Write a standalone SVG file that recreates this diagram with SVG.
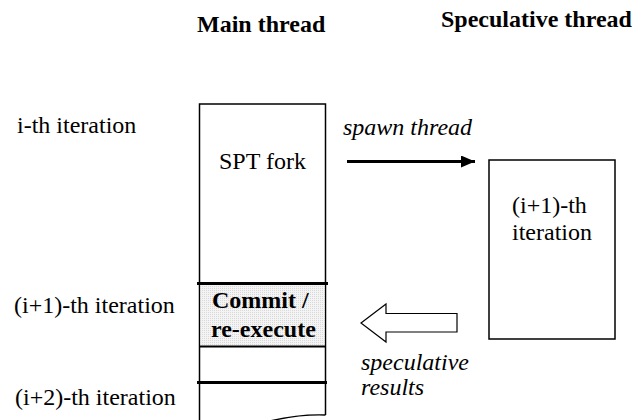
<svg xmlns="http://www.w3.org/2000/svg" width="644" height="420" viewBox="0 0 644 420">
  <style>
    text { font-family: "Liberation Serif", "Times New Roman", serif; font-size: 24px; fill: #000; }
    .bold { font-weight: bold; }
    .ital { font-style: italic; }
    .box { fill: #fff; stroke: #000; stroke-width: 1.5; }
    .sep { stroke: #000; stroke-width: 3; }
    .thin { stroke: #000; stroke-width: 2; }
  </style>
  <defs>
    <pattern id="dots" width="2" height="2" patternUnits="userSpaceOnUse">
      <rect width="2" height="2" fill="#f4f4f4"/>
      <rect width="1" height="1" fill="#d8d8d8"/>
    </pattern>
    <marker id="arrow" viewBox="0 0 14 12" refX="14" refY="6" markerWidth="14" markerHeight="12" markerUnits="userSpaceOnUse" orient="auto">
      <path d="M0,0 L14,6 L0,12 Z" fill="#000"/>
    </marker>
  </defs>

  <!-- column headings -->
  <g id="headings">
    <text class="bold" x="197" y="32">Main thread</text>
    <text class="bold" x="441" y="27">Speculative thread</text>
  </g>

  <!-- iteration labels -->
  <g id="labels">
    <text x="17" y="133">i-th iteration</text>
    <text x="14" y="313">(i+1)-th iteration</text>
    <text x="15" y="405">(i+2)-th iteration</text>
  </g>

  <!-- main thread timeline -->
  <g id="main-thread">
    <path class="box" d="M199.5,420 L199.5,104 L325.5,104 L325.5,415"/>
    <path d="M270,421 Q300,414 325.5,415" fill="none" stroke="#000" stroke-width="1.5"/>
    <text x="219" y="169">SPT fork</text>
  </g>

  <g id="commit">
    <rect x="200.5" y="285" width="124" height="61" fill="url(#dots)"/>
    <line class="sep" x1="197" y1="283.5" x2="328" y2="283.5"/>
    <line class="thin" x1="199" y1="346.5" x2="326" y2="346.5"/>
    <text class="bold" x="212" y="308">Commit /</text>
    <text class="bold" x="211" y="337">re-execute</text>
  </g>

  <g id="next-iteration">
    <line class="sep" x1="197" y1="382.5" x2="327" y2="382.5"/>
  </g>

  <!-- speculative thread -->
  <g id="spec-thread">
    <rect class="box" x="489" y="160" width="126" height="179"/>
    <text x="512" y="213">(i+1)-th</text>
    <text x="512" y="240">iteration</text>
  </g>

  <!-- connectors -->
  <g id="connectors">
    <line x1="347" y1="161.5" x2="475" y2="161.5" stroke="#000" stroke-width="3" marker-end="url(#arrow)"/>
    <text class="ital" x="343" y="135">spawn thread</text>
    <path d="M361,323 L386,304 L386,313.5 L457,313.5 L457,332 L386,332 L386,342 Z" fill="#fff" stroke="#000" stroke-width="1.2"/>
    <text class="ital" x="361" y="370">speculative</text>
    <text class="ital" x="361" y="395">results</text>
  </g>
</svg>
